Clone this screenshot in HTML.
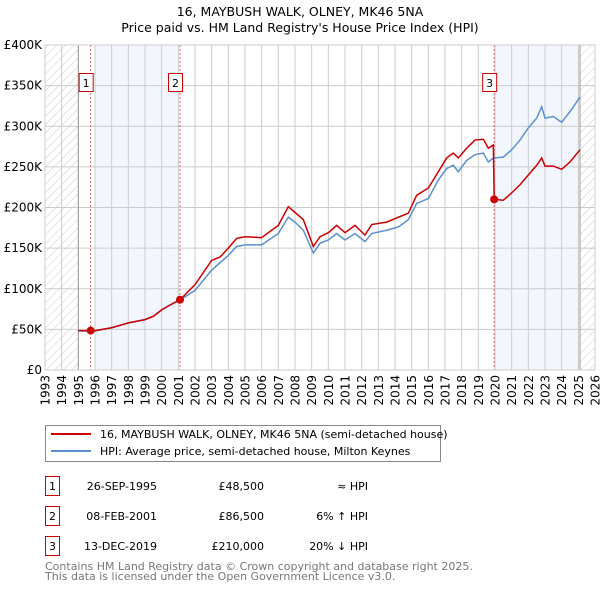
<!DOCTYPE html>
<html><head><meta charset="utf-8"><style>
body{margin:0;background:#fff;}
svg text{font-family:"DejaVu Sans","Liberation Sans",sans-serif;}
</style></head><body>
<svg width="600" height="590" xmlns="http://www.w3.org/2000/svg">
<defs><pattern id="hatch" width="6" height="6" patternUnits="userSpaceOnUse" patternTransform="rotate(45)"><line x1="0" y1="0" x2="0" y2="6" stroke="#ccc" stroke-width="1"/></pattern></defs>
<text x="300" y="16" text-anchor="middle" font-size="12.5">16, MAYBUSH WALK, OLNEY, MK46 5NA</text>
<text x="300" y="32" text-anchor="middle" font-size="12.5">Price paid vs. HM Land Registry's House Price Index (HPI)</text>
<g id="plot"></g>
<rect x="45.5" y="425.5" width="395" height="36" fill="#fff" stroke="#888"/>
<line x1="51" y1="434" x2="91" y2="434" stroke="#cc0000" stroke-width="2"/>
<text x="100" y="438" font-size="11">16, MAYBUSH WALK, OLNEY, MK46 5NA (semi-detached house)</text>
<line x1="51" y1="451" x2="91" y2="451" stroke="#5b8fd0" stroke-width="2"/>
<text x="100" y="455" font-size="11">HPI: Average price, semi-detached house, Milton Keynes</text>
<g font-size="11">
<rect x="45.5" y="476.5" width="14" height="19" fill="#fff" stroke="#cc0000"/><text x="52.5" y="490" text-anchor="middle">1</text>
<text x="157" y="490" text-anchor="end">26-SEP-1995</text><text x="264" y="490" text-anchor="end">£48,500</text><text x="368" y="490" text-anchor="end">≈ HPI</text>
<rect x="45.5" y="506.5" width="14" height="19" fill="#fff" stroke="#cc0000"/><text x="52.5" y="520" text-anchor="middle">2</text>
<text x="157" y="520" text-anchor="end">08-FEB-2001</text><text x="264" y="520" text-anchor="end">£86,500</text><text x="368" y="520" text-anchor="end">6% ↑ HPI</text>
<rect x="45.5" y="536.5" width="14" height="19" fill="#fff" stroke="#cc0000"/><text x="52.5" y="550" text-anchor="middle">3</text>
<text x="157" y="550" text-anchor="end">13-DEC-2019</text><text x="264" y="550" text-anchor="end">£210,000</text><text x="368" y="550" text-anchor="end">20% ↓ HPI</text>
</g>
<text x="45" y="570" font-size="11" fill="#777">Contains HM Land Registry data © Crown copyright and database right 2025.</text>
<text x="45" y="580" font-size="11" fill="#777">This data is licensed under the Open Government Licence v3.0.</text>
</svg>
<script>
const yearTicks=[1993,1994,1995,1996,1997,1998,1999,2000,2001,2002,2003,2004,2005,2006,2007,2008,2009,2010,2011,2012,2013,2014,2015,2016,2017,2018,2019,2020,2021,2022,2023,2024,2025,2026];
const priceTicks=[0,50000,100000,150000,200000,250000,300000,350000,400000];
const priceLabels=["£0","£50K","£100K","£150K","£200K","£250K","£300K","£350K","£400K"];
const hpiDates=[1995,1995.5,1996,1997,1998,1999,1999.5,2000,2000.5,2001.1,2002,2003,2003.5,2004,2004.5,2005,2006,2007,2007.6,2008,2008.5,2009.1,2009.5,2010,2010.5,2011,2011.6,2012.2,2012.6,2013.5,2014.2,2014.8,2015.3,2016,2016.6,2017.1,2017.5,2017.8,2018.3,2018.8,2019.3,2019.6,2019.9,2020.5,2021,2021.5,2022,2022.5,2022.8,2023,2023.5,2024,2024.5,2025.1];
const hpiValues=[48000,48000,48000,52000,58000,62000,66000,74000,80000,86000,98000,123000,132000,141000,152000,154000,154000,168000,188000,182000,172000,144000,156000,160000,168000,160000,168000,158000,168000,172000,176000,185000,205000,211000,234000,248000,252000,244000,258000,265000,267000,256000,261000,262000,271000,283000,298000,310000,324000,310000,312000,305000,318000,336000];
const priceDates=[1995,1995.5,1996,1997,1998,1999,1999.5,2000,2000.5,2001.1,2002,2003,2003.5,2004,2004.5,2005,2006,2007,2007.6,2008,2008.5,2009.1,2009.5,2010,2010.5,2011,2011.6,2012.2,2012.6,2013.5,2014.2,2014.8,2015.3,2016,2016.6,2017.1,2017.5,2017.8,2018.3,2018.8,2019.3,2019.6,2019.9,2019.95,2020.5,2021,2021.5,2022,2022.5,2022.8,2023,2023.5,2024,2024.5,2025.1];
const priceValues=[48500,48500,48500,52000,58000,62000,66000,74000,80000,86500,105000,135000,139000,150000,162000,164000,163000,178000,201000,194000,185000,152000,164000,169000,178000,169000,178000,166000,179000,182000,188000,193000,215000,224000,244000,261000,267000,261000,273000,283000,284000,273000,277000,210000,209000,218000,228000,240000,252000,261000,251000,251000,247000,256000,271000];
const saleDates=[1995.74,2001.1,2019.95];
const salePrices=[48500,86500,210000];
const saleLabels=["1","2","3"];

const X0=45,X1=595,Y0=370,Y1=45;
const x=v=>X0+(v-1993)/(2026-1993)*(X1-X0);
const y=v=>Y0-v/400000*(Y0-Y1);
const NS="http://www.w3.org/2000/svg";
const g=document.getElementById('plot');
function mk(tag,attrs,parent){const e=document.createElementNS(NS,tag);for(const k in attrs)e.setAttribute(k,attrs[k]);(parent||g).appendChild(e);return e;}

let r=mk('rect',{x:X0,y:Y1,width:x(1995)-X0,height:Y0-Y1,fill:'url(#hatch)'});


r=mk('rect',{x:x(2025.1),y:Y1,width:X1-x(2025.1),height:Y0-Y1,fill:'url(#hatch)'});


r=mk('rect',{x:x(1996),y:Y1,width:x(saleDates[1])-x(1996),height:Y0-Y1,fill:'#eef3fc',opacity:0.7});


r=mk('rect',{x:x(saleDates[2]),y:Y1,width:x(2025.1)-x(saleDates[2]),height:Y0-Y1,fill:'#eef3fc',opacity:0.7});



yearTicks.forEach(t=>{
  const l=mk('line',{x1:x(t),x2:x(t),y1:Y1,y2:Y0,stroke:'#ccc','stroke-width':1});
  
  
  const tx=mk('text',{x:0,y:0,'text-anchor':'end','font-size':12,transform:'translate('+(x(t)+4.5)+','+(Y0+5)+') rotate(-90)'});
  tx.textContent=t;
  
  
});
priceTicks.forEach((t,i)=>{
  const l=mk('line',{x1:X0,x2:X1,y1:y(t),y2:y(t),stroke:'#ccc','stroke-width':1});
  
  
  const tx=mk('text',{x:X0-3,y:y(t)+4,'text-anchor':'end','font-size':12});
  tx.textContent=priceLabels[i];
  
  
});
let ax=mk('line',{x1:x(1995),x2:x(1995),y1:Y1,y2:Y0,stroke:'#999','stroke-width':1});


ax=mk('line',{x1:x(2025.1),x2:x(2025.1),y1:Y1,y2:Y0,stroke:'#999','stroke-width':1});



saleDates.forEach((d,i)=>{
  const l=mk('line',{x1:x(d),x2:x(d),y1:Y1,y2:Y0,stroke:'#e06060','stroke-width':1,'stroke-dasharray':'2,2'});
  
  
});

const hp=mk('polyline',{points:hpiDates.map((d,i)=>x(d)+','+y(hpiValues[i])).join(' '),fill:'none',stroke:'#5b8fd0','stroke-width':1.5});


const pp=mk('polyline',{points:priceDates.map((d,i)=>x(d)+','+y(priceValues[i])).join(' '),fill:'none',stroke:'#cc0000','stroke-width':1.5});



saleDates.forEach((d,i)=>{
  const c=mk('circle',{cx:x(d),cy:y(salePrices[i]),r:4,fill:'#cc0000'});
  
  
  const b=mk('rect',{x:x(d)-11.5,y:73.5,width:14,height:18,fill:'#fff',stroke:'#cc0000'});
  
  
  const t=mk('text',{x:x(d)-4.5,y:87,'text-anchor':'middle','font-size':11});
  t.textContent=saleLabels[i];
  
  
});
const border=mk('rect',{x:X0,y:Y1,width:X1-X0,height:Y0-Y1,fill:'none',stroke:'#ccc'});


</script>
</body></html>
